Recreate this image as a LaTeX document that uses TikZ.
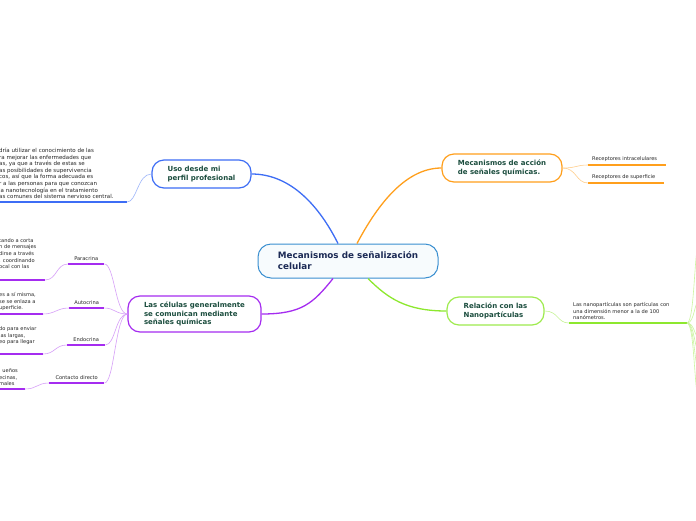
\documentclass[tikz,border=0pt]{standalone}
\usepackage{fontspec}
\setmainfont{DejaVu Sans}
\definecolor{ink}{HTML}{1B4D3E}
\definecolor{navy}{HTML}{1C2A55}
\definecolor{muted}{HTML}{262626}
\definecolor{cblue}{HTML}{3D6DF5}
\definecolor{csky}{HTML}{3A8FD0}
\definecolor{corange}{HTML}{FF9F1C}
\definecolor{cgreen}{HTML}{8DE82E}
\definecolor{cpurple}{HTML}{A52CF0}
\tikzset{
  hub/.style={draw=csky,line width=1pt,fill=csky!4,rounded corners=13pt,minimum width=180pt,minimum height=34pt,inner sep=0pt,align=left,font=\bfseries\fontsize{8.8}{11}\selectfont,text=navy},
  box/.style={draw=#1,line width=1.2pt,fill=white,rounded corners=12pt,inner sep=0pt,align=left,font=\bfseries\fontsize{7}{8.5}\selectfont,text=ink},
  tiny/.style={inner xsep=0pt,inner ysep=3pt,align=left,font=\fontsize{5.1}{6.6}\selectfont,text=muted},
  leaf/.style={inner xsep=0pt,inner ysep=3pt,font=\fontsize{5.1}{6.6}\selectfont,text=muted},
  ar/.style={draw=#1,line width=1.3pt},
  arl/.style={draw=#1,line width=.6pt},
  ul/.style={draw=#1,line width=1.6pt},
}
\begin{document}
\begin{tikzpicture}[x=1pt,y=-1pt]
  \fill[white] (0,0) rectangle (696,520);
  \useasboundingbox (0,0) rectangle (696,520);
  \clip (0,0) rectangle (696,520);

  % ── main nodes ──
  \node[hub] (center) at (348,261) {Mecanismos de señalización\\celular};
  \node[box=cblue,minimum width=99pt,minimum height=28pt] (uso) at (201.5,174) {Uso desde mi\\perfil profesional};
  \node[box=corange,minimum width=120pt,minimum height=28pt] (acc) at (502,168) {Mecanismos de acción\\de señales químicas.};
  \node[box=cgreen!85!white,minimum width=97pt,minimum height=28pt] (rel) at (495.5,311) {Relación con las\\Nanopartículas};
  \node[box=cpurple,minimum width=133pt,minimum height=36pt] (cel) at (194.5,314) {Las células generalmente\\se comunican mediante\\señales químicas};

  \draw[ar=cblue] ([xshift=-10pt]center.north) .. controls +(-18,-36) and +(40,0) .. (uso.east);
  \draw[ar=corange] ([xshift=9pt]center.north) .. controls +(18,-34) and +(-38,0) .. (acc.west);
  \draw[ar=cgreen] ([xshift=20pt]center.south) .. controls +(20,20) and +(-40,0) .. (rel.west);
  \draw[ar=cpurple] ([xshift=-15pt]center.south) .. controls +(-20,25) and +(40,0) .. (cel.east);

  % ── uso desde mi perfil ──
  \node[tiny,anchor=south west,font=\fontsize{5.5}{6.6}\selectfont] (usox) at (-1,202) {dría utilizar el conocimiento de las\\ra mejorar las enfermedades  que\\as, ya que a través de estas se\\as posibilidades de supervivencia\\cos, así que la forma adecuada es\\r a las personas para que conozcan\\ la  nanotecnología en el tratamiento\\as comunes del sistema nervioso central.};
  \draw[ul=cblue] (usox.south west) -- ++(128,0) coordinate (usoxe);
  \draw[arl=cblue!50] (uso.west) .. controls +(-14,0) and +(10,0) .. (usoxe);

  % ── receptores ──
  \node[leaf,anchor=south west,inner xsep=4pt] (rin) at (588,165) {Receptores intracelulares};
  \draw[ul=corange] (rin.south west) -- ++(78,0);
  \node[leaf,anchor=south west,inner xsep=4pt] (rsu) at (588,183) {Receptores de superficie};
  \draw[ul=corange] (rsu.south west) -- ++(76,0);
  \foreach \n in {rin,rsu}
    \draw[arl=corange!50] (acc.east) .. controls +(14,0) and +(-12,0) .. (\n.south west);

  % ── nanoparticulas ──
  \node[tiny,anchor=south west,inner xsep=4pt] (relx) at (569,323) {Las nanopartículas son partículas con\\una dimensión menor a la de 100\\nanómetros.};
  \draw[ul=cgreen] (relx.south west) -- ++(118,0) coordinate (relxe);
  \draw[arl=cgreen!50] (rel.east) .. controls +(14,0) and +(-12,0) .. (relx.south west);
  \foreach \y [count=\i] in {240,300,338,352,372,402} {
    \coordinate (g\i) at (700,\y);
    \draw[arl=cgreen!45] (relxe) .. controls +(8,0) and +(-6,0) .. (g\i);
  }

  % ── tipos de señalización ──
  \node[leaf,minimum width=36pt,anchor=south west] (par) at (68,264) {Paracrina};
  \node[leaf,minimum width=35pt,anchor=south west] (aut) at (69,308) {Autocrina};
  \node[leaf,minimum width=38pt,anchor=south west] (endo) at (67,345) {Endocrina};
  \node[leaf,minimum width=55pt,anchor=south west] (con) at (49,383) {Contacto directo};
  \foreach \n in {par,aut,endo,con} {
    \draw[ul=cpurple] (\n.south west) -- (\n.south east);
    \draw[arl=cpurple!45] (cel.west) .. controls +(-12,0) and +(10,0) .. (\n.south east);
  }

  \node[tiny,anchor=south west,inner ysep=11pt] (parx) at (-1,280) {tando a corta\\n de mensajes\\dirse a través\\. coordinando\\ocal con las};
  \node[tiny,anchor=south west] (autx) at (-1,314) {es a sí misma,\\se se enlaza a\\uperficie.};
  \node[tiny,anchor=south west,inner ysep=9pt] (endox) at (-1,354) {do para enviar\\ias largas,\\eo para llegar};
  \node[tiny,anchor=south west] (conx) at (-1,389) {\ \ ueños\\ecinas,\\ males};
  \draw[ul=cpurple] (parx.south west) -- ++(46,0) coordinate (parxe);
  \draw[ul=cpurple] (autx.south west) -- ++(44,0) coordinate (autxe);
  \draw[ul=cpurple] (endox.south west) -- ++(44,0) coordinate (endoxe);
  \draw[ul=cpurple] (conx.south west) -- ++(26,0) coordinate (conxe);
  \foreach \n in {par,aut,endo,con}
    \draw[arl=cpurple!45] (\n.south west) .. controls +(-12,0) and +(12,0) .. (\n xe);
\end{tikzpicture}
\end{document}
